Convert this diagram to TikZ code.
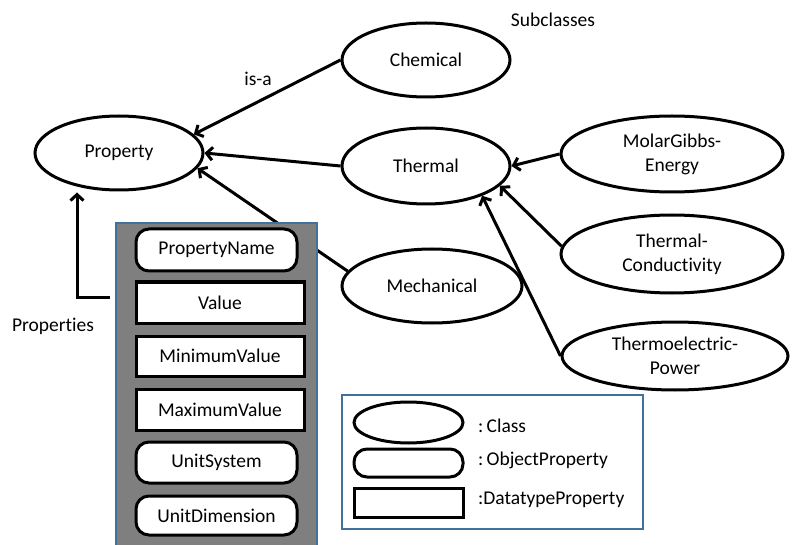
\documentclass[tikz,border=0pt]{standalone}
\usepackage{fontspec}
\setmainfont{Carlito}[Ligatures=NoCommon]
\usetikzlibrary{shapes.geometric,arrows.meta,calc}
\definecolor{boxblue}{HTML}{41719C}
\definecolor{boxgray}{HTML}{7F7F7F}
\begin{document}
\begin{tikzpicture}[x=1pt,y=-1pt,
  font=\fontsize{19.5}{24}\selectfont,
  cls/.style={ellipse,draw,line width=3pt,fill=white,inner sep=0pt,align=center},
  objp/.style={rectangle,rounded corners=13pt,draw,line width=3pt,fill=white,inner sep=0pt},
  datap/.style={rectangle,draw,line width=3pt,fill=white,inner sep=0pt},
  arr/.style={line width=3pt,-{Straight Barb[length=6pt,width=13pt]}}]
\useasboundingbox (0,0) rectangle (792,545);
% class nodes
\node[cls,minimum width=168pt,minimum height=74pt] (prop) at (119,153) {Property};
\node[cls,minimum width=168pt,minimum height=74pt] (chem) at (426,60) {Chemical};
\node[cls,minimum width=168pt,minimum height=76pt] (therm) at (426,166) {Thermal};
\node[cls,minimum width=180pt,minimum height=74pt] (mech) at (432,286) {Mechanical};
\node[cls,minimum width=222pt,minimum height=76pt] (molar) at (672,154) {MolarGibbs-\\Energy};
\node[cls,minimum width=222pt,minimum height=78pt] (cond) at (672,254) {Thermal-\\Conductivity};
\node[cls,minimum width=226pt,minimum height=68pt] (tepow) at (675,356) {Thermoelectric-\\Power};
% labels
\node (sub) at (553,20) {Subclasses};
\node (isa) at (258,79) {is-a};
\node (props) at (53,326) {Properties};
% edges
\draw[arr] (chem.west) -- (prop.14);
\draw[arr] (therm.west) -- (prop.east);
\draw[arr] (mech.170) -- (prop.-11);
\draw[arr] (molar.west) -- (therm.east);
\draw[arr] (cond.176) -- (therm.-15);
\draw[arr] (tepow.west) -- (therm.-28);
\coordinate (pin) at (110,297);
\draw[arr,line join=miter] (pin) -| ($(prop.south)+(-42,1)$);
% property group box
\fill[boxgray] (116,223) rectangle (317,545);
\draw[boxblue,line width=2pt] (116,546) -- (116,223) -- (317,223) -- (317,546);
\node[objp,minimum width=161pt,minimum height=42pt] (pname) at (216.5,250) {PropertyName};
\node[datap,minimum width=168pt,minimum height=41pt] (val) at (220,302.5) {Value};
\node[datap,minimum width=168pt,minimum height=40pt] (minv) at (220,356) {MinimumValue};
\node[datap,minimum width=168pt,minimum height=41pt] (maxv) at (220,409.5) {MaximumValue};
\node[objp,minimum width=161pt,minimum height=41pt] (usys) at (216.5,462.5) {UnitSystem};
\node[objp,minimum width=161pt,minimum height=39pt] (udim) at (216.5,515.5) {UnitDimension};
% legend
\draw[boxblue,line width=2pt,fill=white] (342,395) rectangle (643,529);
\node[cls,minimum width=109pt,minimum height=41pt] (lcls) at (408.5,422.5) {};
\node[objp,minimum width=109pt,minimum height=28pt] (lobj) at (408.5,463) {};
\node[datap,minimum width=109pt,minimum height=29pt] (ldat) at (408.5,502.5) {};
\node[anchor=west,inner sep=0pt] (tcls) at (478,426) {:\,Class};
\node[anchor=west,inner sep=0pt] (tobj) at (478,460) {:\,ObjectProperty};
\node[anchor=west,inner sep=0pt] (tdat) at (478,500) {:DatatypeProperty};
\end{tikzpicture}
\end{document}
